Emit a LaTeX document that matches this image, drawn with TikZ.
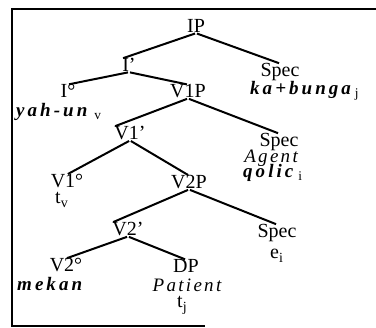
\documentclass[tikz,border=0pt]{standalone}
\usepackage{fontspec}
\setmainfont{Liberation Serif}
\newfontfamily\spfont[LetterSpace=16]{Liberation Serif}
\newfontfamily\itspfont[LetterSpace=12]{Liberation Serif}
\begin{document}
\begin{tikzpicture}[x=1pt,y=-1pt,
  lab/.style={font=\fontsize{20}{16}\selectfont, inner sep=0pt, anchor=base},
  bi/.style={font=\fontsize{19}{16}\selectfont\spfont\bfseries\itshape, inner sep=0pt, anchor=base west},
  itl/.style={font=\fontsize{19}{16}\selectfont\itspfont\itshape, inner sep=0pt, anchor=base},
  br/.style={line width=2pt, shorten <=1pt, shorten >=1pt},
  frame/.style={line width=1.6pt}]
\useasboundingbox (0,0) rectangle (376,328);
% frame
\coordinate (fTL) at (12,9);
\coordinate (fTR) at (376,9);
\coordinate (fBL) at (12,326);
\coordinate (fBR) at (205,326);
\draw[frame] (fTR) -- (fTL) -- (fBL) -- (fBR);
% nodes
\node[lab] (IP) at (196,33) {IP};
\node[lab] (I1) at (129,72) {I'};
\node[lab] (S1) at (280,77) {Spec};
\node[bi] (kab) at (250,95) {ka+bunga\hspace{4pt}{\normalfont\mdseries\upshape\textsubscript{j}}};
\node[lab] (I0) at (68,98) {I°};
\node[bi] (yah) at (16,117) {yah-un\hspace{7pt}{\normalfont\mdseries\upshape\textsubscript{v}}};
\node[lab] (V1P) at (188,98) {V1P};
\node[lab] (V11) at (130,140) {V1'};
\node[lab] (S2) at (279,147) {Spec};
\node[itl, anchor=base east] (agent) at (298,163) {Agent};
\node[bi] (qolic) at (243,178) {qolic\hspace{5pt}{\normalfont\mdseries\upshape\textsubscript{i}}};
\node[lab] (V10) at (67,188) {V1°};
\node[lab, anchor=base west] (tv) at (55,204) {t\textsubscript{v}};
\node[lab] (V2P) at (189,189) {V2P};
\node[lab] (V21) at (128,236) {V2'};
\node[lab] (S3) at (277,238) {Spec};
\node[lab, anchor=base west] (ei) at (270,259) {e\textsubscript{i}};
\node[lab] (V20) at (66,272) {V2°};
\node[bi] (mekan) at (17,291) {mekan};
\node[lab] (DP) at (186,273) {DP};
\node[itl] (pat) at (187,292) {Patient};
\node[lab, anchor=base west] (tj) at (177,308) {t\textsubscript{j}};
% branches
\draw[br] (IP.south) -- (I1.north west);
\draw[br] (IP.south) -- (S1.north);
\draw[br] (I1.south) -- (I0.north);
\draw[br] (I1.south) -- (V1P.north);
\draw[br] (V1P.south) -- (V11.north west);
\draw[br] (V1P.south) -- (S2.north);
\draw[br] (V11.south) -- (V10.north);
\draw[br] (V11.south) -- (V2P.north);
\draw[br] (V2P.south) -- (V21.north west);
\draw[br] (V2P.south) -- (S3.north);
\draw[br] (V21.south) -- (V20.north);
\draw[br] (V21.south) -- (DP.north);
\end{tikzpicture}
\end{document}
